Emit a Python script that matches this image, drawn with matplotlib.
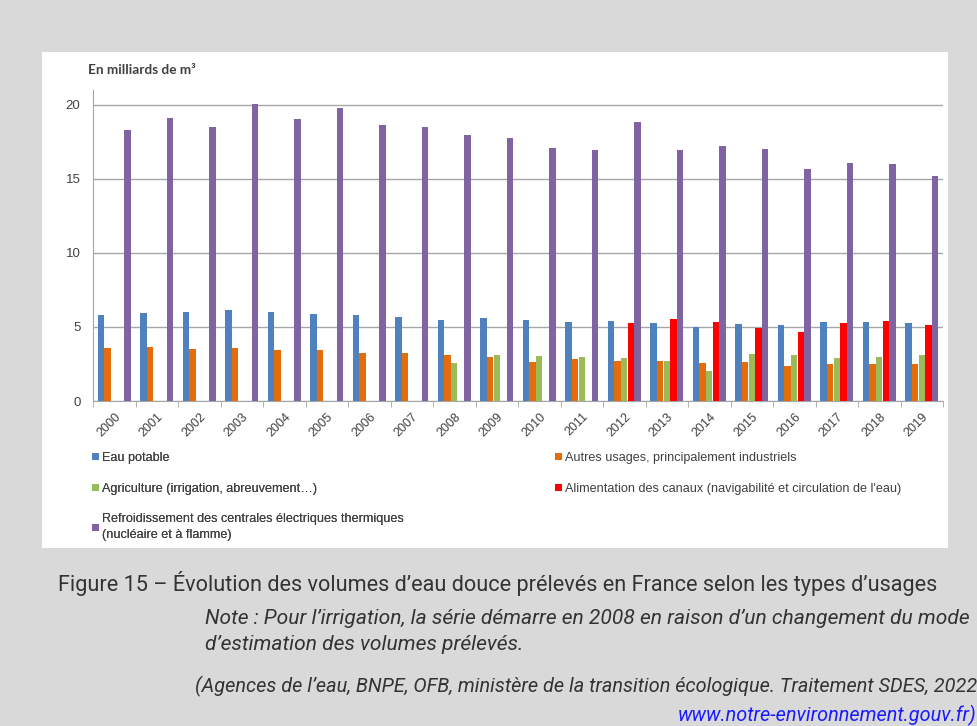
import matplotlib
matplotlib.use("Agg")
import matplotlib.pyplot as plt
from matplotlib.patches import Rectangle
import numpy as np

years = [str(y) for y in range(2000, 2020)]
eau_potable = [5.81, 5.92, 5.99, 6.15, 5.99, 5.88, 5.81, 5.65, 5.47, 5.59,
               5.50, 5.36, 5.43, 5.25, 5.02, 5.20, 5.14, 5.36, 5.32, 5.25]
autres_usages = [3.60, 3.65, 3.51, 3.60, 3.47, 3.47, 3.24, 3.24, 3.09, 2.95,
                 2.61, 2.84, 2.70, 2.72, 2.57, 2.61, 2.39, 2.48, 2.48, 2.48]
agriculture = [np.nan] * 8 + [2.59, 3.13, 3.02, 3.00, 2.90, 2.72, 2.05, 3.20,
                              3.09, 2.90, 3.00, 3.13]
canaux = [np.nan] * 12 + [5.27, 5.54, 5.34, 4.95, 4.64, 5.27, 5.38, 5.11]
refroidissement = [18.31, 19.10, 18.49, 20.07, 19.05, 19.80, 18.65, 18.50, 17.97, 17.75,
                   17.07, 16.98, 18.83, 16.98, 17.19, 17.03, 15.68, 16.06, 16.01, 15.22]

labels = ["Eau potable",
          "Autres usages, principalement industriels",
          "Agriculture (irrigation, abreuvement…)",
          "Alimentation des canaux (navigabilité et circulation de l'eau)",
          "Refroidissement des centrales électriques thermiques\n(nucléaire et à flamme)"]
colors = ["#4f81bd", "#e46c0a", "#9bbb59", "#ff0000", "#8064a2"]

W, H = 978, 726
fig = plt.figure(figsize=(W / 100, H / 100), dpi=100)
fig.patch.set_facecolor("#d9d9d9")
fig.add_artist(Rectangle((42 / W, 1 - 548 / H), (948 - 42) / W, (548 - 52) / H,
                         transform=fig.transFigure, facecolor="white",
                         edgecolor="none", zorder=-5))

ax = fig.add_axes([93 / W, 1 - 401 / H, (943 - 93) / W, (401 - 90) / H])
ax.set_facecolor("none")
x = np.arange(len(years))
bw = 0.156
series = [eau_potable, autres_usages, agriculture, canaux, refroidissement]
containers = []
for j, (vals, c, lab) in enumerate(zip(series, colors, labels)):
    cont = ax.bar(x + (j - 2) * bw, vals, width=bw * 0.95, color=c, label=lab, zorder=3)
    containers.append(cont)

ax.set_xlim(-0.5, len(years) - 0.5)
ax.set_ylim(0, 21)
ax.set_yticks([0, 5, 10, 15, 20])
ax.yaxis.grid(True, color="#a6a6a6", linewidth=1.0, zorder=1)
ax.set_axisbelow(True)
for s in ["top", "right"]:
    ax.spines[s].set_visible(False)
ax.spines["left"].set_color("#a6a6a6")
ax.spines["bottom"].set_color("#a6a6a6")
ax.tick_params(axis="y", length=0, pad=9, labelsize=9.5, labelcolor="#404040")
ax.set_xticks(x)
ax.set_xticklabels(years, rotation=45, ha="right", rotation_mode="anchor",
                   fontsize=9, color="#404040", family="Liberation Sans")
ax.tick_params(axis="x", length=0, pad=7)
ax.set_xticks(np.arange(-0.5, len(years), 1.0), minor=True)
ax.tick_params(axis="x", which="minor", length=4, color="#a6a6a6")
for t in ax.get_yticklabels():
    t.set_family("Liberation Sans")

fig.text(88 / W, 1 - 70 / H, "En milliards de m³", fontsize=9.8, fontweight="bold",
         color="#404040", family="Lato", va="center", ha="left")

leg_font = dict(family="Liberation Sans", size=9.1)
common = dict(loc="upper left", frameon=False, prop=leg_font, handlelength=0.5,
              handleheight=0.5, handletextpad=0.3, labelspacing=1.45, borderpad=0,
              labelcolor="#404040")
leg1 = fig.legend([containers[0], containers[2], containers[4]],
                  [labels[0], labels[2], labels[4]],
                  bbox_to_anchor=(86 / W, 1 - 446 / H), **common)
leg2 = fig.legend([containers[1], containers[3]], [labels[1], labels[3]],
                  bbox_to_anchor=(549 / W, 1 - 446 / H), **common)
for lg in (leg1, leg2):
    for t in lg.get_texts():
        t.set_linespacing(1.5)
fig.add_artist(leg1)

fig.text(58 / W, 1 - 584 / H,
         "Figure 15 – Évolution des volumes d’eau douce prélevés en France selon les types d’usages",
         fontsize=15.6, family="Roboto", color="#333333", va="center", ha="left")
fig.text(205 / W, 1 - 618 / H,
         "Note : Pour l’irrigation, la série démarre en 2008 en raison d’un changement du mode",
         fontsize=15.1, family="Roboto", style="italic", color="#333333", va="center", ha="left")
fig.text(205 / W, 1 - 645 / H, "d’estimation des volumes prélevés.",
         fontsize=15.1, family="Roboto", style="italic", color="#333333", va="center", ha="left")
fig.text(977 / W, 1 - 686 / H,
         "(Agences de l’eau, BNPE, OFB, ministère de la transition écologique. Traitement SDES, 2022",
         fontsize=14.3, family="Roboto", style="italic", color="#333333", va="center", ha="right")
fig.text(977 / W, 1 - 715 / H, "www.notre-environnement.gouv.fr)",
         fontsize=14.3, family="Roboto", style="italic", color="#1a1aff", va="center", ha="right")

fig.savefig("out.png", dpi=100)
